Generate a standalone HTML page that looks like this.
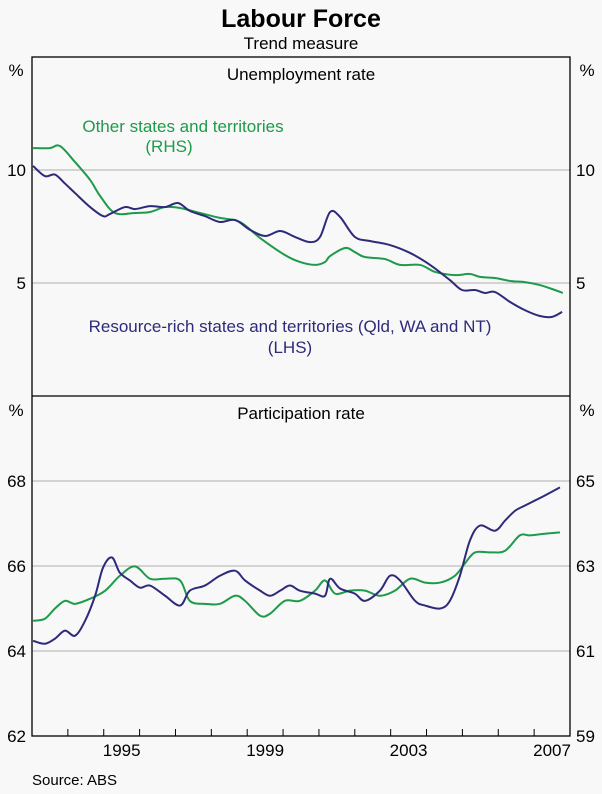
<!DOCTYPE html>
<html><head><meta charset="utf-8"><style>
html,body{margin:0;padding:0;background:#f8f8f8;}
svg{display:block;font-family:"Liberation Sans",sans-serif;}
</style></head><body>
<svg id="chart" width="602" height="794" viewBox="0 0 602 794">
<rect x="0" y="0" width="602" height="794" fill="#f8f8f8"/>
<text x="301" y="27" text-anchor="middle" font-size="25" font-weight="bold">Labour Force</text>
<text x="301" y="49" text-anchor="middle" font-size="17">Trend measure</text>
<g id="grid"></g>
<g id="series"></g>
<rect x="32" y="57" width="538" height="679" fill="none" stroke="#000" stroke-width="1.3"/>
<line x1="32" y1="396" x2="570" y2="396" stroke="#000" stroke-width="1.3"/>
<g id="ticks"></g>
<text x="301" y="80" text-anchor="middle" font-size="17">Unemployment rate</text>
<text x="301" y="419" text-anchor="middle" font-size="17">Participation rate</text>
<text x="16" y="76" text-anchor="middle" font-size="17">%</text>
<text x="587" y="76" text-anchor="middle" font-size="17">%</text>
<text x="16" y="416" text-anchor="middle" font-size="17">%</text>
<text x="587" y="416" text-anchor="middle" font-size="17">%</text>
<text x="183" y="132" text-anchor="middle" font-size="17" fill="#1e9a4a">Other states and territories</text>
<text x="169" y="152" text-anchor="middle" font-size="17" fill="#1e9a4a">(RHS)</text>
<text x="290" y="332" text-anchor="middle" font-size="17" fill="#2e2a7a">Resource-rich states and territories (Qld, WA and NT)</text>
<text x="290" y="353" text-anchor="middle" font-size="17" fill="#2e2a7a">(LHS)</text>
<text x="32" y="785" font-size="15">Source: ABS</text>
</svg>
<script>
var xYears=[1995,1999,2003,2007];
var topTicks=[5,10];
var botLeftTicks=[62,64,66,68];
var botRightTicks=[59,61,63,65];
var unempResource=[[1993.03,10.18],[1993.36,9.73],[1993.64,9.8],[1993.92,9.4],[1994.2,8.98],[1994.62,8.36],[1994.98,7.96],[1995.17,8.05],[1995.59,8.36],[1995.87,8.27],[1996.29,8.4],[1996.71,8.36],[1997.07,8.54],[1997.4,8.19],[1997.82,7.96],[1998.24,7.7],[1998.66,7.79],[1999.08,7.35],[1999.5,7.08],[1999.92,7.3],[2000.33,7.04],[2000.75,6.81],[2001.03,7.04],[2001.31,8.14],[2001.59,7.92],[2002.0,7.04],[2002.42,6.86],[2002.98,6.68],[2003.54,6.33],[2004.1,5.8],[2004.65,5.13],[2004.99,4.69],[2005.35,4.69],[2005.63,4.56],[2005.91,4.6],[2006.33,4.16],[2006.74,3.8],[2007.16,3.54],[2007.5,3.5],[2007.78,3.72]];
var unempOther=[[1993.03,10.97],[1993.5,10.97],[1993.78,11.06],[1994.2,10.35],[1994.62,9.56],[1994.9,8.85],[1995.31,8.1],[1995.87,8.1],[1996.29,8.14],[1996.71,8.36],[1997.13,8.32],[1997.68,8.1],[1998.24,7.88],[1998.8,7.7],[1999.36,6.99],[2000.05,6.24],[2000.47,5.93],[2000.89,5.8],[2001.17,5.93],[2001.31,6.19],[2001.73,6.55],[2002.0,6.37],[2002.28,6.15],[2002.84,6.06],[2003.26,5.8],[2003.82,5.8],[2004.24,5.49],[2004.79,5.35],[2005.21,5.4],[2005.49,5.27],[2005.91,5.22],[2006.33,5.09],[2006.74,5.04],[2007.16,4.91],[2007.58,4.69],[2007.8,4.56]];
var partResource=[[1993.03,64.24],[1993.36,64.17],[1993.64,64.29],[1993.92,64.48],[1994.2,64.36],[1994.48,64.71],[1994.76,65.3],[1994.98,65.96],[1995.23,66.2],[1995.45,65.84],[1995.73,65.66],[1996.01,65.49],[1996.29,65.54],[1996.71,65.3],[1997.13,65.07],[1997.4,65.42],[1997.82,65.54],[1998.24,65.77],[1998.66,65.89],[1998.94,65.66],[1999.36,65.42],[1999.64,65.3],[1999.92,65.42],[2000.19,65.54],[2000.47,65.42],[2000.89,65.35],[2001.17,65.3],[2001.31,65.7],[2001.59,65.47],[2002.0,65.35],[2002.28,65.18],[2002.7,65.42],[2002.98,65.77],[2003.26,65.66],[2003.68,65.18],[2003.96,65.07],[2004.38,65.0],[2004.65,65.18],[2004.93,65.77],[2005.21,66.6],[2005.49,66.95],[2005.91,66.83],[2006.19,67.07],[2006.47,67.3],[2006.74,67.42],[2007.02,67.54],[2007.3,67.66],[2007.72,67.85]];
var partOther=[[1993.03,61.71],[1993.36,61.76],[1993.64,62.0],[1993.92,62.18],[1994.2,62.11],[1994.62,62.23],[1995.04,62.42],[1995.45,62.77],[1995.87,62.99],[1996.29,62.7],[1996.71,62.7],[1997.13,62.66],[1997.4,62.18],[1997.82,62.11],[1998.24,62.11],[1998.66,62.3],[1998.94,62.18],[1999.36,61.83],[1999.64,61.88],[2000.05,62.18],[2000.47,62.18],[2000.89,62.42],[2001.17,62.66],[2001.45,62.35],[2001.87,62.42],[2002.28,62.42],[2002.7,62.3],[2003.12,62.42],[2003.54,62.7],[2003.96,62.61],[2004.38,62.61],[2004.79,62.77],[2005.07,63.06],[2005.35,63.32],[2005.77,63.32],[2006.19,63.36],[2006.6,63.72],[2006.88,63.72],[2007.3,63.76],[2007.72,63.79]];

var NS='http://www.w3.org/2000/svg';
function xS(y){return 32+(y-1993)*(538/15);}
function yTop(v){return 396-v*(339/15);}
function yBotL(v){return 736-(v-62)*(340/8);}
function yBotR(v){return yBotL(v+3);}
function mk(tag,attrs,parent){var e=document.createElementNS(NS,tag);for(var k in attrs)e.setAttribute(k,attrs[k]);parent.appendChild(e);return e;}
var grid=document.getElementById('grid'),ticks=document.getElementById('ticks'),ser=document.getElementById('series');
topTicks.forEach(function(t){
  var y=yTop(t);
  var g=mk('line',{x1:32,x2:570,y1:y,y2:y,stroke:'#bdbdbd','stroke-width':1.2},grid);
  
  
  var a=mk('text',{x:26,y:y+6,'text-anchor':'end','font-size':17},ticks);a.textContent=t;
  
  
  var b=mk('text',{x:576,y:y+6,'font-size':17},ticks);b.textContent=t;
  
  
});
botLeftTicks.forEach(function(t,i){
  var y=yBotL(t);
  if(t>62){var g=mk('line',{x1:32,x2:570,y1:y,y2:y,stroke:'#bdbdbd','stroke-width':1.2},grid);
  
  }
  var a=mk('text',{x:26,y:y+6,'text-anchor':'end','font-size':17},ticks);a.textContent=t;
  
  
  var r=botRightTicks[i];
  var b=mk('text',{x:576,y:yBotR(r)+6,'font-size':17},ticks);b.textContent=r;
  
  
});
for(var yr=1994;yr<=2007;yr++){
  var x=xS(yr);
  var l=mk('line',{x1:x,x2:x,y1:736,y2:729,stroke:'#000','stroke-width':1},ticks);
  
  
}
xYears.forEach(function(yr){
  var t=mk('text',{x:xS(yr+0.5),y:756,'text-anchor':'middle','font-size':17},ticks);t.textContent=yr;
  
  
});
function path(data,yf){
  var p=data.map(function(d){return [xS(d[0]),yf(d[1])];});
  var s='M'+p[0][0]+','+p[0][1];
  for(var i=0;i<p.length-1;i++){
    var p0=p[i-1]||p[i],p1=p[i],p2=p[i+1],p3=p[i+2]||p2;
    s+=' C'+(p1[0]+(p2[0]-p0[0])/6)+','+(p1[1]+(p2[1]-p0[1])/6)+' '+(p2[0]-(p3[0]-p1[0])/6)+','+(p2[1]-(p3[1]-p1[1])/6)+' '+p2[0]+','+p2[1];
  }
  return s;
}
var s1=mk('path',{d:path(unempOther,yTop),fill:'none',stroke:'#1e9a4a','stroke-width':2},ser);


var s2=mk('path',{d:path(unempResource,yTop),fill:'none',stroke:'#2e2a7a','stroke-width':2},ser);


var s3=mk('path',{d:path(partOther,yBotR),fill:'none',stroke:'#1e9a4a','stroke-width':2},ser);


var s4=mk('path',{d:path(partResource,yBotL),fill:'none',stroke:'#2e2a7a','stroke-width':2},ser);


</script>
</body></html>
